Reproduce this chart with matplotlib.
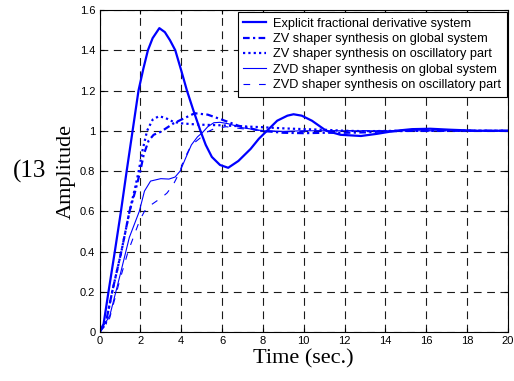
import matplotlib
matplotlib.use('Agg')
import matplotlib.pyplot as plt
from matplotlib.ticker import FuncFormatter

# step responses (time in sec., amplitude)
t_explicit = [0, 0.2, 0.44, 0.75, 1.05, 1.33, 1.62, 1.91, 2.15, 2.37, 2.6, 2.93, 3.2, 3.45,
              3.71, 4.0, 4.28, 4.6, 4.94, 5.2, 5.5, 5.9, 6.3, 6.8, 7.4, 7.8, 8.2, 8.7, 9.2,
              9.5, 9.9, 10.4, 11.1, 11.8, 12.8, 13.6, 14.5, 15.3, 16.2, 17.2, 18.5, 20]
amp_explicit = [0, 0.04, 0.2, 0.4, 0.6, 0.8, 1.0, 1.2, 1.31, 1.4, 1.46, 1.51, 1.49, 1.45,
                1.4, 1.3, 1.2, 1.1, 1.0, 0.93, 0.87, 0.83, 0.816, 0.85, 0.91, 0.96, 1.0, 1.05,
                1.075, 1.082, 1.075, 1.05, 1.0, 0.98, 0.974, 0.985, 1.0, 1.008, 1.01, 1.005,
                1.0, 1.0]

t_zv_global = [0, 0.3, 0.62, 1.07, 1.47, 1.75, 2.0, 2.16, 2.4, 2.65, 3.0, 3.3, 3.63, 4.0,
               4.66, 5.3, 6.0, 6.8, 7.9, 9, 10, 11, 12, 13, 14, 15.5, 20]
amp_zv_global = [0, 0.04, 0.2, 0.4, 0.6, 0.7, 0.8, 0.88, 0.95, 0.98, 0.995, 1.015, 1.037,
                 1.055, 1.087, 1.08, 1.055, 1.025, 1.0, 0.99, 0.988, 0.99, 0.99, 0.992,
                 0.997, 1.0, 1.0]

t_zv_osc = [0, 0.3, 0.62, 1.07, 1.47, 1.75, 1.92, 2.1, 2.33, 2.6, 2.9, 3.2, 3.6, 4.0, 4.5,
            5.0, 6.0, 7.0, 7.9, 9, 10, 11, 12, 13, 15, 20]
amp_zv_osc = [0, 0.04, 0.2, 0.4, 0.6, 0.72, 0.8, 0.9, 1.0, 1.055, 1.072, 1.065, 1.045,
              1.037, 1.033, 1.03, 1.027, 1.022, 1.018, 1.012, 1.008, 1.005, 1.0, 0.998,
              1.0, 1.0]

t_zvd_global = [0, 0.5, 1.0, 1.46, 1.95, 2.2, 2.5, 3.0, 3.4, 3.7, 3.95, 4.2, 4.5, 4.8,
                5.03, 5.3, 5.6, 5.9, 6.3, 7.0, 8, 9, 10, 20]
amp_zvd_global = [0, 0.08, 0.28, 0.47, 0.6, 0.7, 0.75, 0.762, 0.76, 0.77, 0.8, 0.86, 0.93,
                  0.97, 0.99, 1.02, 1.04, 1.042, 1.035, 1.015, 1.0, 0.997, 1.0, 1.0]

t_zvd_osc = [0, 0.5, 1.0, 1.4, 1.95, 2.2, 2.5, 3.0, 3.3, 3.6, 3.95, 4.1, 4.4, 4.7, 5.0,
             5.2, 5.6, 6.2, 7, 8, 9, 11, 20]
amp_zvd_osc = [0, 0.07, 0.26, 0.4, 0.55, 0.6, 0.63, 0.665, 0.69, 0.73, 0.8, 0.85, 0.91,
               0.945, 0.97, 0.99, 1.01, 1.02, 1.01, 1.0, 0.995, 1.0, 1.0]

labels = ['Explicit fractional derivative system',
          'ZV shaper synthesis on global system',
          'ZV shaper synthesis on oscillatory part',
          'ZVD shaper synthesis on global system',
          'ZVD shaper synthesis on oscillatory part']

blue = '#0000ff'
sans = 'Liberation Sans'
serif = 'Liberation Serif'

fig = plt.figure(figsize=(5.14, 3.81), dpi=100)
ax = fig.add_axes([0.1936, 0.1286, 0.7947, 0.8451])

ax.plot(t_explicit, amp_explicit, color=blue, lw=1.6, ls='-', label=labels[0])
ax.plot(t_zv_global, amp_zv_global, color=blue, lw=1.6, ls=(0, (3, 1.5, 1, 1.5)), label=labels[1])
ax.plot(t_zv_osc, amp_zv_osc, color=blue, lw=1.6, ls=(0, (1, 1.4)), label=labels[2])
ax.plot(t_zvd_global, amp_zvd_global, color=blue, lw=0.8, ls='-', label=labels[3])
ax.plot(t_zvd_osc, amp_zvd_osc, color=blue, lw=0.8, ls=(0, (6, 8)), label=labels[4])

ax.set_xlim(0, 20)
ax.set_ylim(0, 1.6)
ax.set_xticks(range(0, 21, 2))
ax.set_yticks([i * 0.2 for i in range(9)])
ax.yaxis.set_major_formatter(FuncFormatter(lambda v, p: '%g' % round(v, 1)))
ax.grid(True, color='0.1', ls=(0, (7, 5)), lw=0.8)
ax.tick_params(direction='in', top=True, right=True, length=3, width=0.8,
               labelsize=8, pad=3)
for lab in ax.get_xticklabels() + ax.get_yticklabels():
    lab.set_family(sans)
for s in ax.spines.values():
    s.set_linewidth(0.8)

ax.set_xlabel('Time (sec.)', family=serif, fontsize=16)
ax.set_ylabel('Amplitude', family=serif, fontsize=16)
ax.xaxis.set_label_coords(0.498, -0.052)
ax.yaxis.set_label_coords(-0.057, 0.5)

fig.text(13 / 514, 1 - 178 / 381, '(13', family=serif, fontsize=18, va='baseline')

leg = ax.legend(loc='upper right', bbox_to_anchor=(0.998, 0.994), borderaxespad=0,
                prop={'family': sans, 'size': 9.2}, labelspacing=0.26,
                borderpad=0.45, handlelength=1.8, handletextpad=0.55, fancybox=False,
                framealpha=1, edgecolor='black')
leg.get_frame().set_linewidth(0.8)

fig.savefig('out.png', dpi=100)
